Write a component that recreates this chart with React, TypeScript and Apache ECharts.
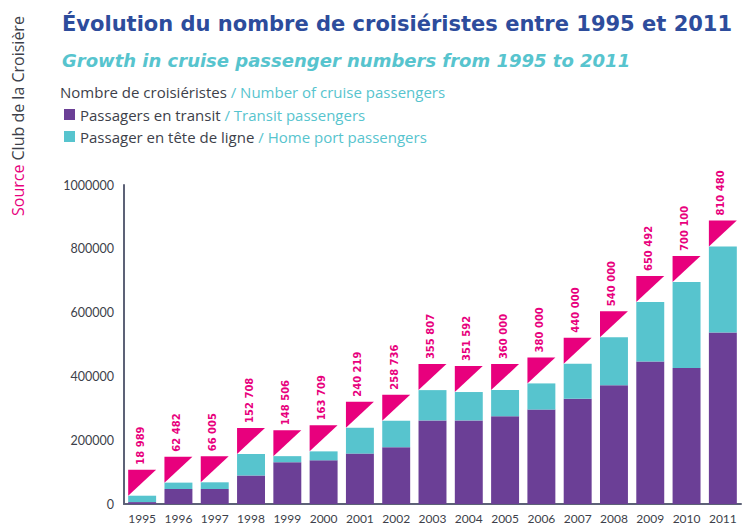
import React, { useEffect, useRef } from "react";
import * as echarts from "echarts";

const years = ["1995","1996","1997","1998","1999","2000","2001","2002","2003","2004","2005","2006","2007","2008","2009","2010","2011"];
const transit = [6000, 47000, 47000, 89000, 131000, 137000, 158000, 178000, 262000, 262000, 275000, 296000, 330000, 372000, 447000, 426000, 538000];
const homePort = [20000, 20000, 21000, 68000, 19000, 28000, 81000, 83000, 95000, 89000, 82000, 82000, 110000, 151000, 186000, 270000, 269000];
const totalLabels = ["18 989","62 482","66 005","152 708","148 506","163 709","240 219","258 736","355 807","351 592","360 000","380 000","440 000","540 000","650 492","700 100","810 480"];
const yTicks = [0, 200000, 400000, 600000, 800000, 1000000];

const seriesNames = ["Passagers en transit", "Passager en tête de ligne"];
const seriesNamesEn = ["Transit passengers", "Home port passengers"];

const PURPLE = "#6b3f96";
const CYAN = "#57c4ce";
const PINK = "#e8007d";
const BLUE = "#2d4c9c";
const DARK = "#3d3f4a";
const AXIS = "#5d6277";

export default function App() {
  const ref = useRef<HTMLDivElement>(null);
  useEffect(() => {
    document.body.style.margin = "0";
    if (!ref.current) return;
    const chart = echarts.init(ref.current, undefined, { renderer: "svg" });
    const barRatio = 0.77;
    chart.setOption({
      animation: false,
      backgroundColor: "#ffffff",
      title: [
        {
          text: "Évolution du nombre de croisiéristes entre 1995 et 2011",
          left: 57,
          top: 8,
          textStyle: { fontFamily: "DejaVu Sans", fontWeight: "bold", fontSize: 21, color: BLUE },
        },
        {
          text: "Growth in cruise passenger numbers from 1995 to 2011",
          left: 57,
          top: 46,
          textStyle: { fontFamily: "DejaVu Sans", fontWeight: "bold", fontStyle: "italic", fontSize: 18, color: CYAN },
        },
      ],
      legend: {
        orient: "vertical",
        left: 59,
        top: 102,
        itemWidth: 11,
        itemHeight: 11,
        itemGap: 7,
        icon: "rect",
        data: seriesNames,
        formatter: (name: string) => {
          const i = seriesNames.indexOf(name);
          return `{a|${name} }{b|/ ${seriesNamesEn[i]}}`;
        },
        textStyle: {
          rich: {
            a: { fontFamily: "Open Sans", fontSize: 15, color: DARK, lineHeight: 17 },
            b: { fontFamily: "Open Sans", fontSize: 15, color: CYAN, lineHeight: 17 },
          },
        },
      },
      graphic: [
        {
          type: "text",
          x: 60,
          y: 92,
          style: {
            text: "{a|Nombre de croisiéristes }{b|/ Number of cruise passengers}",
            verticalAlign: "middle",
            rich: {
              a: { fontFamily: "Open Sans", fontSize: 15, fill: DARK },
              b: { fontFamily: "Open Sans", fontSize: 15, fill: CYAN },
            },
          },
        },
        {
          type: "text",
          x: 18,
          y: 216,
          rotation: Math.PI / 2,
          style: {
            text: "{s|Source }{c|Club de la Croisière}",
            align: "left",
            verticalAlign: "middle",
            rich: {
              s: { fontFamily: "Open Sans", fontSize: 16, fill: PINK },
              c: { fontFamily: "Open Sans", fontSize: 16, fill: DARK },
            },
          },
        },
      ],
      grid: { left: 124, right: 13, top: 185, bottom: 25, containLabel: false },
      xAxis: {
        type: "category",
        data: years,
        axisLine: { lineStyle: { color: AXIS, width: 2 } },
        axisTick: { show: false },
        axisLabel: { color: DARK, fontFamily: "Lato", fontSize: 12, margin: 8, interval: 0 },
      },
      yAxis: {
        type: "value",
        min: yTicks[0],
        max: yTicks[yTicks.length - 1],
        interval: yTicks[1] - yTicks[0],
        splitLine: { show: false },
        axisLine: { show: true, lineStyle: { color: AXIS, width: 2 } },
        axisTick: { show: false },
        axisLabel: { color: DARK, fontFamily: "Lato", fontSize: 12.5, margin: 10, formatter: (v: number) => String(v) },
      },
      series: [
        {
          name: seriesNames[0],
          type: "bar",
          stack: "total",
          barWidth: `${barRatio * 100}%`,
          itemStyle: { color: PURPLE },
          data: transit,
        },
        {
          name: seriesNames[1],
          type: "bar",
          stack: "total",
          barWidth: `${barRatio * 100}%`,
          itemStyle: { color: CYAN },
          data: homePort,
        },
        {
          name: "labels",
          type: "custom",
          data: years.map((_, i) => [i, transit[i] + homePort[i]]),
          encode: { x: 0, y: 1 },
          z: 5,
          renderItem: (params: any, api: any) => {
            const i = api.value(0);
            const top = api.value(1);
            const p = api.coord([i, top]);
            const w = api.size([1, 0])[0] * barRatio;
            const h = 26;
            const x0 = p[0] - w / 2;
            const x1 = p[0] + w / 2;
            const y0 = p[1];
            return {
              type: "group",
              children: [
                {
                  type: "polygon",
                  shape: { points: [[x0, y0], [x0, y0 - h], [x1, y0 - h]] },
                  style: { fill: PINK },
                },
                {
                  type: "text",
                  x: p[0] - 2,
                  y: y0 - h - 5,
                  rotation: Math.PI / 2,
                  style: {
                    text: totalLabels[params.dataIndex],
                    fill: PINK,
                    fontFamily: "DejaVu Sans",
                    fontWeight: "bold",
                    fontSize: 10,
                    align: "left",
                    verticalAlign: "middle",
                  },
                },
              ],
            };
          },
        },
      ],
    });
    return () => chart.dispose();
  }, []);
  return <div ref={ref} style={{ width: 754, height: 529 }} />;
}
